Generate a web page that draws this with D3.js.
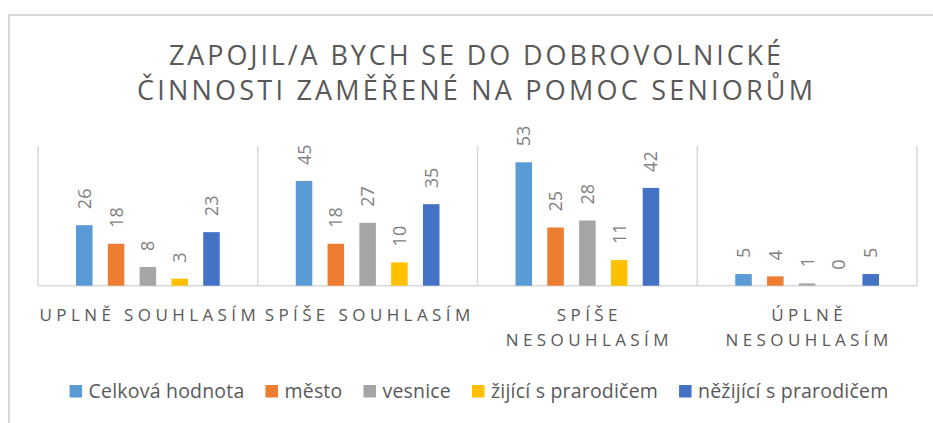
<!DOCTYPE html>
<html>
<head>
<meta charset="utf-8">
<script src="https://cdn.jsdelivr.net/npm/d3@7"></script>
<style>
  html, body { margin: 0; padding: 0; background: #fff; }
  svg { display: block; font-family: "Open Sans", "Noto Sans", sans-serif; }
</style>
</head>
<body>
<svg id="chart" width="933" height="423"></svg>
<script>
// Survey answers and respondent groups
const titleLines = ["ZAPOJIL/A BYCH SE DO DOBROVOLNICKÉ", "ČINNOSTI ZAMĚŘENÉ NA POMOC SENIORŮM"];
const categories = ["Uplně souhlasím", "Spíše souhlasím", "Spíše nesouhlasím", "Úplně nesouhlasím"];
const categoryLines = [["UPLNĚ SOUHLASÍM"], ["SPÍŠE SOUHLASÍM"], ["SPÍŠE", "NESOUHLASÍM"], ["ÚPLNĚ", "NESOUHLASÍM"]];
const seriesNames = ["Celková hodnota", "město", "vesnice", "žijící s prarodičem", "něžijící s prarodičem"];
const seriesColors = ["#5B9BD5", "#ED7D31", "#A5A5A5", "#FFC000", "#4472C4"];
const celkem = [26, 45, 53, 5];
const mesto = [18, 18, 25, 4];
const vesnice = [8, 27, 28, 1];
const sPrarodicem = [3, 10, 11, 0];
const bezPrarodice = [23, 35, 42, 5];
const seriesValues = [celkem, mesto, vesnice, sPrarodicem, bezPrarodice];

const svg = d3.select("#chart");
const textColor = "#595959";
const lineColor = "#D9D9D9";

// Chart area frame (top and left edges)
svg.append("path")
  .attr("d", "M9,423 V15 H933")
  .attr("fill", "none")
  .attr("stroke", lineColor)
  .attr("stroke-width", 2);

// Title
const titleWidths = [612, 676];
svg.append("g").selectAll("text")
  .data(titleLines)
  .join("text")
  .attr("x", 475)
  .attr("y", (d, i) => 65 + i * 35)
  .attr("text-anchor", "middle")
  .attr("fill", textColor)
  .attr("font-size", 27)
  .attr("textLength", (d, i) => titleWidths[i])
  .attr("lengthAdjust", "spacing")
  .text(d => d);

// Scales
const plot = { left: 38, right: 917, top: 146, bottom: 285.7 };
const x = d3.scaleBand().domain(categories).range([plot.left, plot.right]).padding(0);
const step = 31.8;
const xs = d3.scaleBand().domain(seriesNames)
  .range([-2.5 * step, 2.5 * step])
  .paddingInner(0.48).paddingOuter(0.24);
const y = d3.scaleLinear().domain([0, 60]).range([plot.bottom, plot.top]);

// Category separators and baseline
const bounds = categories.map(c => x(c)).concat([plot.right]);
svg.append("g").selectAll("line")
  .data(bounds)
  .join("line")
  .attr("x1", d => d).attr("x2", d => d)
  .attr("y1", plot.top).attr("y2", plot.bottom)
  .attr("stroke", lineColor).attr("stroke-width", 1.5);
svg.append("line")
  .attr("x1", plot.left).attr("x2", plot.right)
  .attr("y1", plot.bottom).attr("y2", plot.bottom)
  .attr("stroke", lineColor).attr("stroke-width", 1.5);

// Bars and rotated value labels
const rows = [];
categories.forEach((c, ci) => {
  seriesNames.forEach((s, si) => {
    rows.push({ cat: c, series: s, color: seriesColors[si], value: seriesValues[si][ci] });
  });
});
const cx = d => x(d.cat) + x.bandwidth() / 2 + xs(d.series);

svg.append("g").selectAll("rect")
  .data(rows)
  .join("rect")
  .attr("x", cx)
  .attr("y", d => y(d.value))
  .attr("width", xs.bandwidth())
  .attr("height", d => y(0) - y(d.value))
  .attr("fill", d => d.color);

svg.append("g").selectAll("text")
  .data(rows)
  .join("text")
  .attr("transform", d => {
    const px = cx(d) + xs.bandwidth() / 2 + 6.5;
    const py = y(d.value) - 16;
    return `translate(${px},${py}) rotate(-90)`;
  })
  .attr("fill", "#7F7F7F")
  .attr("font-size", 18)
  .text(d => d.value);

// Category labels
const catG = svg.append("g");
categories.forEach((c, ci) => {
  const lines = categoryLines[ci];
  const mid = x(c) + x.bandwidth() / 2;
  lines.forEach((ln, li) => {
    catG.append("text")
      .attr("x", mid + 2)
      .attr("y", 321 + li * 25)
      .attr("text-anchor", "middle")
      .attr("fill", textColor)
      .attr("font-size", 17)
      .attr("letter-spacing", "4.4px")
      .text(ln);
  });
});

// Legend
const legend = svg.append("g");
const items = seriesNames.map((s, i) => {
  const g = legend.append("g");
  g.append("rect").attr("width", 12.5).attr("height", 12.5).attr("y", -13).attr("fill", seriesColors[i]);
  const t = g.append("text").attr("x", 19).attr("y", 0)
    .attr("fill", textColor).attr("font-size", 19.5).attr("letter-spacing", "0.2px").text(s);
  return { g, w: 19 + t.node().getComputedTextLength() };
});
const gap = 21;
const total = d3.sum(items, d => d.w) + gap * (items.length - 1);
let lx = 479 - total / 2;
items.forEach(it => {
  it.g.attr("transform", `translate(${lx},398)`);
  lx += it.w + gap;
});
</script>
</body>
</html>
